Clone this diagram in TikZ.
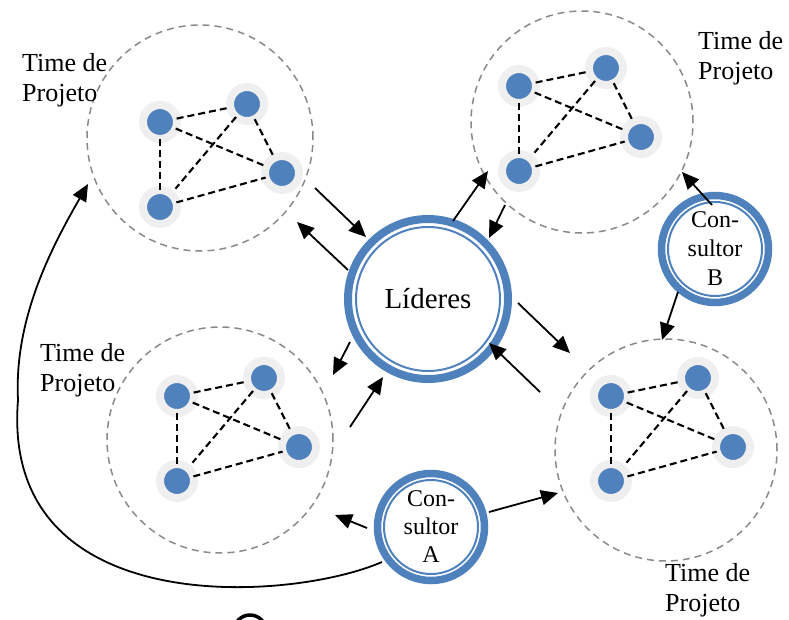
\documentclass[tikz,border=0pt]{standalone}
\usepackage{fontspec}
\setmainfont{Liberation Serif}
\usetikzlibrary{arrows.meta}
\definecolor{ringblue}{HTML}{4F81BD}
\definecolor{halo}{HTML}{EFEFEF}
\definecolor{dashgray}{HTML}{8A8A8A}
\begin{document}
\begin{tikzpicture}[x=1pt,y=-1pt,
  team/.style={circle, draw=dashgray, dash pattern=on 7pt off 5pt, line width=1.5pt, minimum size=#1, inner sep=0pt},
  member/.style={circle, fill=ringblue, draw=halo, line width=8pt, minimum size=34pt, inner sep=0pt, outer sep=0pt},
  link/.style={black, line width=2.1pt, dash pattern=on 7pt off 4pt},
  arr/.style={black, line width=1.8pt, -{Triangle[length=17pt,width=15pt]}},
  teamlabel/.style={align=left, anchor=north west, inner sep=0pt, font=\fontsize{26}{30}\selectfont},
  hub/.style={circle, inner sep=0pt, minimum size=#1, align=center},
  thickring/.style={ringblue, line width=#1},
]
\useasboundingbox (0,0) rectangle (789,619);

% team circles
\node[team=226pt] (tl) at (200,138) {};
\node[team=222pt] (tr) at (582,122) {};
\node[team=226pt] (bl) at (220,440) {};
\node[team=222pt] (br) at (666,450) {};

% team members and links
\foreach \t/\x/\y in {tl/160/122, tr/519/86, bl/177/396, br/611/396}{
  \node[member] (\t1) at (\x,\y) {};
  \node[member] (\t2) at ({\x+87},{\y-18}) {};
  \node[member] (\t3) at ({\x+122},{\y+51}) {};
  \node[member] (\t4) at (\x,{\y+85}) {};
  \draw[link] (\t1) -- (\t2);
  \draw[link] (\t1) -- (\t4);
  \draw[link] (\t1) -- (\t3);
  \draw[link] (\t2) -- (\t3);
  \draw[link] (\t4) -- (\t3);
  \draw[link, shorten >=7pt] (\t2) -- (\t4);
}

% team labels
\node[teamlabel] (ltl) at (22,53) {Time de\\Projeto};
\node[teamlabel] (ltr) at (698,31) {Time de\\Projeto};
\node[teamlabel] (lbl) at (40,343) {Time de\\Projeto};
\node[teamlabel] (lbr) at (665,563) {Time de\\Projeto};

% leaders
\node[hub=168pt, font=\fontsize{29}{34}\selectfont] (lid) at (428,299) {Líderes};
\draw[thickring=8pt] (lid.center) circle[radius=80pt];
\draw[thickring=2pt] (lid.center) circle[radius=72pt];

% consultants
\node[hub=114pt, font=\fontsize{24}{28}\selectfont] (ca) at (431,527) {Con-\\sultor\\A};
\draw[thickring=7.5pt] (ca.center) circle[radius=53.5pt];
\draw[thickring=2pt] (ca.center) circle[radius=47pt];

\node[hub=114pt, font=\fontsize{24}{29}\selectfont] (cb) at (715,249) {Con-\\sultor\\B};
\draw[thickring=7.5pt] (cb.center) circle[radius=53.5pt];
\draw[thickring=2pt] (cb.center) circle[radius=47pt];

% arrow end points
\coordinate (a1s) at (315,188);  \coordinate (a1e) at (366,237);
\coordinate (a2s) at (348,270);  \coordinate (a2e) at (297,222);
\coordinate (a3s) at (453,221);  \coordinate (a3e) at (488,171);
\coordinate (a4s) at (505,205);  \coordinate (a4e) at (489,238);
\coordinate (a5s) at (518,303);  \coordinate (a5e) at (570,353);
\coordinate (a6s) at (540,392);  \coordinate (a6e) at (489,343);
\coordinate (a7s) at (350,342);  \coordinate (a7e) at (333,375);
\coordinate (a8s) at (350,427);  \coordinate (a8e) at (383,377);
\coordinate (a9s) at (367,528);  \coordinate (a9e) at (335,515);
\coordinate (a10s) at (489,512); \coordinate (a10e) at (558,493);
\coordinate (a11s) at (712,205); \coordinate (a11e) at (682,172);
\coordinate (a12s) at (678,292); \coordinate (a12e) at (662,340);
\coordinate (cs) at (382,562);   \coordinate (cm) at (18,400);
\coordinate (ce) at (88,184);

\draw[arr] (a1s) -- (a1e);
\draw[arr] (a2s) -- (a2e);
\draw[arr] (a3s) -- (a3e);
\draw[arr] (a4s) -- (a4e);
\draw[arr] (a5s) -- (a5e);
\draw[arr] (a6s) -- (a6e);
\draw[arr] (a7s) -- (a7e);
\draw[arr] (a8s) -- (a8e);
\draw[arr] (a9s) -- (a9e);
\draw[arr] (a10s) -- (a10e);
\draw[arr] (a11s) -- (a11e);
\draw[arr] (a12s) -- (a12e);

% curved connector from consultant A to the top-left team
\draw[arr] (cs) .. controls (290,602) and (0,622) .. (cm)
               .. controls (14,320) and (50,250) .. (ce);

% cut-off fragment at the bottom edge
\draw[black, line width=3.5pt] (250,631) circle[radius=16pt];
\end{tikzpicture}
\end{document}
